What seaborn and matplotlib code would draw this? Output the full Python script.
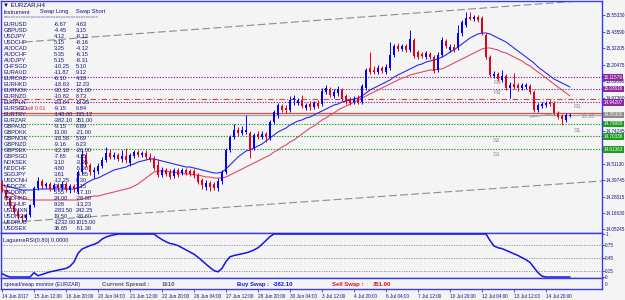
import matplotlib
matplotlib.use("Agg")
import matplotlib.pyplot as plt
import numpy as np
import pandas as pd
import seaborn as sns

# EURZAR H4 candles (14 Jun - 17 Jul 2017)
opens = [14.377, 14.328, 14.272, 14.216, 14.174, 14.146, 14.132, 14.153, 14.223, 14.342,
         14.391, 14.356, 14.370, 14.335, 14.363, 14.342, 14.370, 14.328, 14.356, 14.314,
         14.454, 14.573, 14.503, 14.454, 14.461, 14.496, 14.538, 14.587, 14.559, 14.573,
         14.545, 14.566, 14.517, 14.566, 14.594, 14.573, 14.587, 14.559, 14.552, 14.503,
         14.433, 14.468, 14.454, 14.426, 14.468, 14.447, 14.468, 14.461, 14.461, 14.433,
         14.398, 14.349, 14.377, 14.370, 14.342, 14.391, 14.454, 14.608, 14.699, 14.748,
         14.727, 14.734, 14.727, 14.622, 14.720, 14.699, 14.720, 14.692, 14.804, 14.853,
         14.916, 14.902, 14.888, 14.958, 14.937, 14.958, 14.902, 14.930, 14.909, 14.937,
         14.930, 15.014, 15.035, 14.986, 15.007, 15.028, 14.986, 14.965, 14.944, 14.972,
         14.944, 15.042, 15.182, 15.168, 15.154, 15.182, 15.154, 15.182, 15.273, 15.336,
         15.315, 15.336, 15.308, 15.378, 15.294, 15.280, 15.259, 15.280, 15.259, 15.168,
         15.273, 15.371, 15.308, 15.329, 15.322, 15.427, 15.483, 15.539, 15.525, 15.539,
         15.532, 15.413, 15.259, 15.126, 15.140, 15.098, 15.126, 15.042, 15.070, 15.063,
         15.042, 15.049, 15.056, 15.014, 14.888, 14.916, 14.923, 14.944, 14.937, 14.867,
         14.846, 14.818, 14.846]
highs = [14.398, 14.342, 14.286, 14.230, 14.195, 14.160, 14.167, 14.230, 14.356, 14.419,
         14.405, 14.384, 14.384, 14.377, 14.377, 14.391, 14.384, 14.370, 14.370, 14.468,
         14.608, 14.594, 14.517, 14.489, 14.517, 14.559, 14.629, 14.615, 14.594, 14.587,
         14.608, 14.622, 14.587, 14.608, 14.608, 14.601, 14.608, 14.587, 14.566, 14.538,
         14.489, 14.482, 14.475, 14.482, 14.482, 14.482, 14.482, 14.475, 14.475, 14.447,
         14.412, 14.398, 14.391, 14.384, 14.412, 14.468, 14.622, 14.713, 14.790, 14.769,
         14.776, 14.853, 14.741, 14.727, 14.741, 14.741, 14.734, 14.818, 14.888, 14.937,
         14.930, 14.923, 14.986, 14.993, 14.972, 14.993, 14.937, 14.951, 14.951, 14.958,
         15.042, 15.063, 15.049, 15.035, 15.056, 15.042, 15.000, 14.979, 14.986, 14.993,
         15.070, 15.182, 15.294, 15.196, 15.203, 15.196, 15.210, 15.364, 15.350, 15.357,
         15.350, 15.350, 15.448, 15.392, 15.308, 15.294, 15.301, 15.294, 15.273, 15.294,
         15.399, 15.385, 15.350, 15.350, 15.483, 15.518, 15.574, 15.574, 15.553, 15.553,
         15.546, 15.427, 15.273, 15.161, 15.154, 15.168, 15.140, 15.084, 15.147, 15.077,
         15.077, 15.077, 15.070, 15.028, 14.937, 14.944, 14.951, 14.958, 14.951, 14.881,
         14.860, 14.867, 14.867]
lows = [14.314, 14.258, 14.202, 14.160, 14.125, 14.104, 14.118, 14.139, 14.209, 14.328,
        14.335, 14.342, 14.321, 14.321, 14.328, 14.328, 14.314, 14.307, 14.314, 14.300,
        14.440, 14.489, 14.433, 14.412, 14.440, 14.482, 14.524, 14.545, 14.545, 14.531,
        14.524, 14.517, 14.496, 14.552, 14.559, 14.559, 14.545, 14.524, 14.468, 14.419,
        14.419, 14.426, 14.405, 14.412, 14.419, 14.433, 14.433, 14.426, 14.412, 14.370,
        14.335, 14.328, 14.321, 14.328, 14.321, 14.370, 14.440, 14.594, 14.685, 14.706,
        14.713, 14.720, 14.552, 14.608, 14.685, 14.685, 14.664, 14.678, 14.790, 14.832,
        14.874, 14.867, 14.874, 14.923, 14.923, 14.902, 14.888, 14.888, 14.895, 14.902,
        14.916, 15.000, 14.979, 14.972, 14.986, 14.951, 14.930, 14.923, 14.930, 14.930,
        14.930, 15.028, 15.140, 15.140, 15.140, 15.147, 15.140, 15.168, 15.259, 15.301,
        15.301, 15.294, 15.294, 15.252, 15.245, 15.252, 15.245, 15.245, 15.147, 15.154,
        15.259, 15.322, 15.294, 15.294, 15.308, 15.406, 15.469, 15.518, 15.511, 15.504,
        15.413, 15.245, 15.119, 15.112, 15.091, 15.084, 15.028, 14.972, 15.035, 15.021,
        15.028, 15.035, 15.000, 14.874, 14.874, 14.902, 14.909, 14.916, 14.853, 14.825,
        14.783, 14.804, 14.839]
closes = [14.328, 14.272, 14.216, 14.174, 14.146, 14.132, 14.153, 14.223, 14.342, 14.391,
          14.356, 14.370, 14.335, 14.363, 14.342, 14.370, 14.328, 14.356, 14.335, 14.454,
          14.573, 14.503, 14.454, 14.468, 14.496, 14.538, 14.587, 14.559, 14.573, 14.545,
          14.566, 14.538, 14.573, 14.594, 14.573, 14.587, 14.559, 14.538, 14.482, 14.433,
          14.468, 14.440, 14.419, 14.468, 14.433, 14.468, 14.447, 14.440, 14.433, 14.384,
          14.363, 14.377, 14.349, 14.342, 14.391, 14.454, 14.608, 14.699, 14.748, 14.727,
          14.748, 14.748, 14.608, 14.713, 14.699, 14.720, 14.699, 14.804, 14.874, 14.923,
          14.888, 14.888, 14.958, 14.972, 14.958, 14.916, 14.923, 14.909, 14.937, 14.916,
          15.021, 15.042, 14.993, 15.014, 15.035, 14.965, 14.944, 14.937, 14.965, 14.944,
          15.056, 15.168, 15.154, 15.154, 15.182, 15.161, 15.189, 15.273, 15.336, 15.315,
          15.336, 15.308, 15.385, 15.266, 15.259, 15.266, 15.287, 15.259, 15.161, 15.273,
          15.378, 15.336, 15.329, 15.308, 15.427, 15.504, 15.532, 15.525, 15.539, 15.518,
          15.427, 15.259, 15.133, 15.140, 15.105, 15.126, 15.042, 15.063, 15.049, 15.042,
          15.063, 15.063, 15.014, 14.888, 14.923, 14.930, 14.937, 14.930, 14.867, 14.839,
          14.825, 14.853, 14.853]

# moving averages as drawn on the chart
ma_fast = [14.363, 14.356, 14.349, 14.342, 14.335, 14.328, 14.328, 14.328, 14.328, 14.335,
           14.335, 14.335, 14.335, 14.335, 14.335, 14.335, 14.335, 14.335, 14.335, 14.342,
           14.356, 14.377, 14.391, 14.405, 14.412, 14.426, 14.440, 14.454, 14.468, 14.475,
           14.482, 14.489, 14.503, 14.510, 14.524, 14.531, 14.538, 14.545, 14.545, 14.538,
           14.531, 14.524, 14.517, 14.510, 14.503, 14.496, 14.489, 14.489, 14.482, 14.475,
           14.468, 14.461, 14.454, 14.447, 14.447, 14.454, 14.475, 14.503, 14.531, 14.559,
           14.580, 14.601, 14.608, 14.622, 14.636, 14.650, 14.671, 14.692, 14.713, 14.734,
           14.748, 14.762, 14.783, 14.797, 14.811, 14.818, 14.832, 14.839, 14.853, 14.867,
           14.881, 14.895, 14.909, 14.923, 14.930, 14.944, 14.951, 14.958, 14.965, 14.972,
           14.986, 15.007, 15.028, 15.042, 15.056, 15.070, 15.084, 15.098, 15.119, 15.133,
           15.147, 15.161, 15.175, 15.189, 15.203, 15.210, 15.224, 15.231, 15.238, 15.245,
           15.259, 15.273, 15.294, 15.308, 15.329, 15.350, 15.371, 15.392, 15.406, 15.420,
           15.427, 15.427, 15.420, 15.406, 15.392, 15.378, 15.364, 15.343, 15.322, 15.301,
           15.280, 15.259, 15.238, 15.217, 15.189, 15.168, 15.147, 15.126, 15.105, 15.091,
           15.077, 15.063, 15.049]
ma_slow = [14.335, 14.321, 14.307, 14.293, 14.279, 14.272, 14.265, 14.258, 14.258, 14.258,
           14.258, 14.258, 14.258, 14.258, 14.258, 14.258, 14.258, 14.258, 14.258, 14.258,
           14.265, 14.272, 14.279, 14.286, 14.286, 14.293, 14.300, 14.307, 14.314, 14.321,
           14.328, 14.335, 14.342, 14.356, 14.370, 14.391, 14.412, 14.433, 14.454, 14.461,
           14.461, 14.461, 14.454, 14.454, 14.447, 14.447, 14.440, 14.440, 14.433, 14.433,
           14.426, 14.419, 14.419, 14.412, 14.412, 14.412, 14.419, 14.433, 14.447, 14.461,
           14.475, 14.489, 14.503, 14.517, 14.531, 14.545, 14.559, 14.573, 14.594, 14.608,
           14.629, 14.643, 14.664, 14.678, 14.699, 14.720, 14.741, 14.762, 14.776, 14.797,
           14.818, 14.832, 14.853, 14.867, 14.888, 14.902, 14.916, 14.930, 14.944, 14.958,
           14.972, 14.986, 15.000, 15.014, 15.028, 15.042, 15.056, 15.070, 15.084, 15.098,
           15.112, 15.119, 15.133, 15.140, 15.147, 15.154, 15.161, 15.168, 15.168, 15.175,
           15.175, 15.189, 15.203, 15.217, 15.231, 15.245, 15.259, 15.273, 15.287, 15.301,
           15.315, 15.322, 15.322, 15.315, 15.308, 15.294, 15.287, 15.273, 15.259, 15.245,
           15.231, 15.210, 15.196, 15.175, 15.154, 15.133, 15.112, 15.091, 15.070, 15.049,
           15.028, 15.007, 14.986]

# Laguerre RSI(0.80)
laguerre = [0.08, 0.03, 0, 0, 0, 0, 0, 0, 0.10, 0.03,
            0.06, 0.09, 0.12, 0.14, 0.16, 0.18, 0.20, 0.25, 0.35, 0.55,
            0.65, 0.69, 0.73, 0.76, 0.80, 0.88, 0.93, 0.96, 0.98, 1,
            1, 1, 1, 1, 1, 1, 1, 1, 1, 0.93,
            0.87, 0.82, 0.78, 0.76, 0.73, 0.68, 0.63, 0.58, 0.53, 0.46,
            0.38, 0.30, 0.22, 0.15, 0.12, 0.20, 0.36, 0.47, 0.50, 0.52,
            0.54, 0.56, 0.59, 0.63, 0.68, 0.76, 0.85, 0.94, 1, 1,
            1, 1, 1, 1, 1, 1, 1, 1, 1, 1,
            1, 1, 1, 1, 1, 1, 1, 1, 1, 1,
            1, 1, 1, 1, 1, 1, 1, 1, 1, 1,
            1, 1, 1, 1, 1, 1, 1, 1, 1, 1,
            1, 1, 1, 1, 1, 1, 1, 1, 1, 1,
            1, 1, 0.85, 0.72, 0.68, 0.66, 0.62, 0.58, 0.54, 0.50,
            0.45, 0.40, 0.34, 0.22, 0.10, 0.02, 0, 0, 0, 0,
            0, 0, 0]
lag_levels = [0.75, 0.45, 0.15]

date_labels = ["14 Jun 2017", "15 Jun 12:00", "16 Jun 20:00", "20 Jun 04:00", "21 Jun 12:00",
               "22 Jun 20:00", "26 Jun 04:00", "27 Jun 12:00", "28 Jun 20:00", "30 Jun 04:00",
               "3 Jul 12:00", "4 Jul 20:00", "6 Jul 04:00", "7 Jul 12:00", "10 Jul 20:00",
               "12 Jul 04:00", "13 Jul 12:00", "14 Jul 20:00"]
price_ticks = [15.55330, 15.43590, 15.32205, 15.20475, 15.09090, 14.97360, 14.85975,
               14.74245, 14.62860, 14.51130, 14.39745, 14.28015, 14.16630, 14.05245]
hidden_ticks = [14.85975, 14.62860]

pivot_names = ["R3", "R2", "R1", "S1", "S2", "S3"]
pivot_levels = [15.11579, 15.03616, 14.94207, 14.79095, 14.70336, 14.61363]
sell_price = 14.965
bid = 14.853
ask = 14.869
channel_upper = ([5.75, 150], [15.364, 15.663])
channel_lower = ([-0.25, 150], [14.097, 14.391])
trend_x = [132, 139.5]
trend_p = [14.839, 14.867]

instruments = ["EURUSD", "GBPUSD", "USDJPY", "USDCHF", "AUDCAD", "AUDCHF", "AUDJPY", "CHFSGD",
               "EURAUD", "EURCAD", "EURHKD", "EURNOK", "EURNZD", "EURPLN", "EURSGD", "EURTRY",
               "EURZAR", "GBPAUD", "GBPDKK", "GBPNOK", "GBPNZD", "GBPSEK", "GBPSGD", "NOKSEK",
               "NZDCHF", "SGDJPY", "USDCNH", "USDCZK", "USDDKK", "USDHKD", "USDHUF", "USDMXN",
               "USDNOK", "USDRUB", "USDSEK"]
swap_long = ["-6.67", "-4.45", "4.12", "5.15", "3.25", "5.35", "5.15", "-10.25", "-11.87", "-6.10",
             "-18.63", "-30.12", "-10.82", "-23.84", "-9.15", "-148.00", "-382.10", "-9.15", "13.00",
             "-16.58", "-9.16", "-12.18", "-7.65", "3.10", "4.80", "3.61", "-12.25", "-2.80", "5.55",
             "24.00", "9.28", "-283.50", "19.50", "-1232.00", "38.65"]
swap_short = ["4.63", "3.15", "-8.12", "-8.16", "-4.12", "-6.15", "-8.31", "5.10", "9.12", "4.18",
              "12.23", "-21.00", "8.73", "19.25", "6.84", "135.12", "351.00", "6.89", "-21.00",
              "5.69", "6.23", "-26.00", "4.15", "-3.95", "-5.90", "-4.85", "8.30", "2.15", "-17.10",
              "-28.00", "-13.23", "242.25", "-30.60", "1015.00", "-51.36"]

sns.set_theme(style="white")
plt.rcParams["font.family"] = ["Liberation Sans", "DejaVu Sans"]

BG = "#f4f4f4"
FRAME = "#3c3cdc"
NAVY = "#14147a"
UP = "#0000f0"
DOWN = "#e0001c"
PURPLE = "#8e2a9e"
GREEN = "#1f9a1f"
GREY = "#8c8c8c"
AX_FS = 3.3

fig = plt.figure(figsize=(6.25, 3), dpi=100, facecolor=BG)
ax = fig.add_axes([1 / 625, 67 / 300, 601 / 625, 232 / 300])
axl = fig.add_axes([1 / 625, 22 / 300, 601 / 625, 45 / 300])
axs = fig.add_axes([1 / 625, 11 / 300, 601 / 625, 11 / 300])

for a in (ax, axl, axs):
    a.set_facecolor(BG)
    a.set_xlim(-0.25, 150)
    for s in a.spines.values():
        s.set_color(FRAME)
        s.set_linewidth(1.0)
    a.tick_params(axis="x", bottom=False, labelbottom=False)
    a.grid(False)

# ---- main price panel
df = pd.DataFrame({"o": opens, "h": highs, "l": lows, "c": closes})
df["i"] = np.arange(len(df))
col = np.where(df.c >= df.o, UP, DOWN)

ax.axhline(ask, color="#e8474a", lw=0.9, zorder=1)
ax.axhline(bid, color="#a4a4a4", lw=0.9, zorder=1)
ax.axhline(sell_price, color="#e03c3c", lw=0.8, ls=(0, (5, 2, 1, 2)), zorder=1)
for name, lvl in zip(pivot_names, pivot_levels):
    c = PURPLE if name.startswith("R") else GREEN
    ax.axhline(lvl, color=c, lw=0.8, ls=(0, (1.2, 1.3)), zorder=1)

ax.plot(*channel_upper, color=GREY, lw=0.8, dashes=(7, 3), zorder=1)
ax.plot(*channel_lower, color=GREY, lw=0.8, dashes=(7, 3), zorder=1)
ax.plot(trend_x, trend_p, color="#a0a0a0", lw=0.8, zorder=1)

sns.lineplot(x=df.i, y=ma_slow, ax=ax, color="#e04a66", lw=0.8, zorder=2)
sns.lineplot(x=df.i, y=ma_fast, ax=ax, color="#2a2af0", lw=0.8, zorder=2)

ax.vlines(df.i, df.l, df.h, color=col, lw=0.7, zorder=3)
body = np.maximum((df.c - df.o).abs(), 0.003)
ax.bar(df.i, body, bottom=np.minimum(df.o, df.c), width=0.72, color=col, lw=0, zorder=4)

ax.set_ylim(14.027, 15.651)
ax.set_xlabel("")
ax.set_ylabel("")
ax.yaxis.tick_right()
ax.set_yticks(price_ticks)
ax.set_yticklabels(["" if v in hidden_ticks else f"{v:.5f}" for v in price_ticks])
ax.tick_params(axis="y", right=True, left=False, length=1.8, width=0.6, color=FRAME,
               labelsize=AX_FS, labelcolor=NAVY, pad=0.5)

pivot_text_pos = [(122.75, 15.084), (122.75, 15.007), (143.0, 14.916),
                  (143.0, 14.748), (122.75, 14.671), (122.75, 14.580)]
for name, (px, pp) in zip(pivot_names, pivot_text_pos):
    ax.text(px, pp, name, fontsize=4.3, color=GREY, va="center", ha="left", zorder=5)
ax.text(145, 14.839, "21:20", fontsize=3.8, color=GREY, va="center", ha="left", zorder=5)
ax.text(4, 14.895, "#1 sell 0.01", fontsize=3.8, color="#d03030", va="center", ha="left", zorder=5)

boxes = [(f"{pivot_levels[0]:.5f}", pivot_levels[0], PURPLE),
         (f"{pivot_levels[1]:.5f}", pivot_levels[1], PURPLE),
         (f"{pivot_levels[2]:.5f}", pivot_levels[2], PURPLE),
         (f"{bid:.5f}", bid, "#8a8a8a"),
         (f"{pivot_levels[3]:.5f}", pivot_levels[3], GREEN),
         (f"{pivot_levels[4]:.5f}", pivot_levels[4], GREEN),
         (f"{pivot_levels[5]:.5f}", pivot_levels[5], GREEN)]
for txt, p, c in boxes:
    ax.annotate(txt, xy=(1, p), xycoords=("axes fraction", "data"), xytext=(1.2, 0),
                textcoords="offset points", ha="left", va="center", fontsize=AX_FS, color="white",
                bbox=dict(boxstyle="square,pad=0.18", fc=c, ec="none"),
                annotation_clip=False, zorder=10)

# swap table overlay (window-fixed text)
def fx(px):
    return (px - 1) / 601


def fy(py):
    return 1 - (py - 1) / 232


ax.text(fx(3), fy(5), "\u25bc EURZAR,H4", transform=ax.transAxes, fontsize=4.3,
        color="#101030", va="center", ha="left", zorder=6)
ax.text(fx(4), fy(12), "Instrument", transform=ax.transAxes, fontsize=4.1, color=NAVY,
        va="center", zorder=6)
ax.text(fx(40), fy(12), "Swap Long", transform=ax.transAxes, fontsize=4.1, color=NAVY,
        va="center", zorder=6)
ax.text(fx(76), fy(12), "Swap Short", transform=ax.transAxes, fontsize=4.1, color=NAVY,
        va="center", zorder=6)
ax.text(fx(4), fy(17.5), "=" * 38, transform=ax.transAxes, fontsize=3.2, color=NAVY,
        va="center", zorder=6)
for k, (ins, sl, ss) in enumerate(zip(instruments, swap_long, swap_short)):
    yy = fy(24 + 6 * k)
    ax.text(fx(4), yy, ins, transform=ax.transAxes, fontsize=4.1, color=NAVY, va="center", zorder=6)
    ax.text(fx(54), yy, sl, transform=ax.transAxes, fontsize=4.1, color=NAVY, va="center", zorder=6)
    ax.text(fx(76), yy, ss, transform=ax.transAxes, fontsize=4.1, color=NAVY, va="center", zorder=6)

# ---- Laguerre panel
for lv in lag_levels:
    axl.axhline(lv, color="#8a8a8a", lw=0.6, ls=(0, (1.5, 1.5)), zorder=1)
sns.lineplot(x=df.i, y=laguerre, ax=axl, color="#1414e6", lw=1.1, zorder=3)
axl.set_ylim(-0.023, 1.023)
axl.set_xlabel("")
axl.set_ylabel("")
axl.yaxis.tick_right()
axl.set_yticks([1] + lag_levels + [0])
axl.set_yticklabels(["1", "0.75", "0.45", "0.15", "0"])
axl.tick_params(axis="y", right=True, left=False, length=1.8, width=0.6, color=FRAME,
                labelsize=AX_FS, labelcolor=NAVY, pad=0.5)
axl.text(0.004, 0.84, "LaguerreRSI(0.80) 0.0000", transform=axl.transAxes, fontsize=4.1,
         color=NAVY, va="center", ha="left")

# ---- spread / swap strip
axs.set_ylim(0, 1)
axs.set_yticks([0.5])
axs.set_yticklabels(["0"])
axs.yaxis.tick_right()
axs.tick_params(axis="y", right=True, left=False, length=0, labelsize=AX_FS, labelcolor=NAVY, pad=2)
axs.text(fx(4), 0.45, "spread/swap monitor (EURZAR)", transform=axs.transAxes, fontsize=3.8,
         color=NAVY, va="center")
strip_items = [(102, "Current Spread :", "#5a5a5a"), (162, "1610", "#5a5a5a"),
               (237, "Buy Swap :", "#1515e8"), (273, swap_long[16], "#1515e8"),
               (332, "Sell Swap :", "#e01020"), (373, swap_short[16], "#e01020")]
for px, txt, c in strip_items:
    axs.text(fx(px), 0.45, txt, transform=axs.transAxes, fontsize=4.3, fontweight="bold",
             color=c, va="center")

tick_pos = np.arange(len(date_labels)) * 8
axs.set_xticks(tick_pos)
axs.set_xticklabels(date_labels, ha="left")
axs.tick_params(axis="x", bottom=True, labelbottom=True, length=2.5, width=0.6, color=FRAME,
                labelsize=3.4, labelcolor=NAVY, pad=1, direction="out")

fig.savefig("out.png", dpi=100, facecolor=BG)
